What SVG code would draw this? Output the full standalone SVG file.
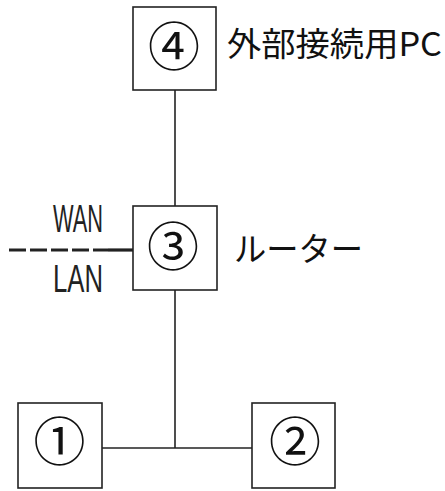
<svg xmlns="http://www.w3.org/2000/svg" width="445" height="491" viewBox="0 0 445 491">
<style>
.box{fill:#fff;stroke:#222;stroke-width:1.6}
.ln{stroke:#222;stroke-width:1.6;fill:none}
.num{font-family:"Noto Sans CJK JP","Liberation Sans",sans-serif;font-size:52px;fill:#111;text-anchor:middle}
.lbl{font-family:"Noto Sans CJK JP",sans-serif;font-size:33px;fill:#111}
.lat{font-family:"Liberation Sans","DejaVu Sans",sans-serif;font-size:38px;fill:#222}
</style>
<rect width="445" height="491" fill="#fff"/>
<g id="connectors">
<line class="ln" x1="175" y1="90" x2="175" y2="206"/>
<line class="ln" x1="175" y1="290" x2="175" y2="448"/>
<line class="ln" x1="102" y1="448" x2="252" y2="448"/>
<line x1="9" y1="250" x2="108" y2="250" stroke="#222" stroke-width="3.2" stroke-dasharray="17 4"/>
<line x1="108" y1="250" x2="133" y2="250" stroke="#222" stroke-width="3.2"/>
</g>
<g id="node4">
<rect class="box" x="133" y="7" width="83" height="83"/>
<text class="num" x="174" y="66">④</text>
<text class="lbl" x="227" y="56" textLength="215" lengthAdjust="spacingAndGlyphs">外部接続用PC</text>
</g>
<g id="node3">
<rect class="box" x="133" y="206" width="84" height="84"/>
<text class="num" x="173" y="265.5">③</text>
<text class="lbl" x="234" y="261" textLength="129" lengthAdjust="spacingAndGlyphs">ルーター</text>
<text class="lat" x="53" y="232" textLength="50" lengthAdjust="spacingAndGlyphs">WAN</text>
<text class="lat" x="53" y="292" textLength="50" lengthAdjust="spacingAndGlyphs">LAN</text>
</g>
<g id="node1">
<rect class="box" x="18" y="403" width="84" height="85"/>
<text class="num" x="59.5" y="460.5">①</text>
</g>
<g id="node2">
<rect class="box" x="252" y="403" width="83" height="85"/>
<text class="num" x="295" y="460.5">②</text>
</g>
</svg>
